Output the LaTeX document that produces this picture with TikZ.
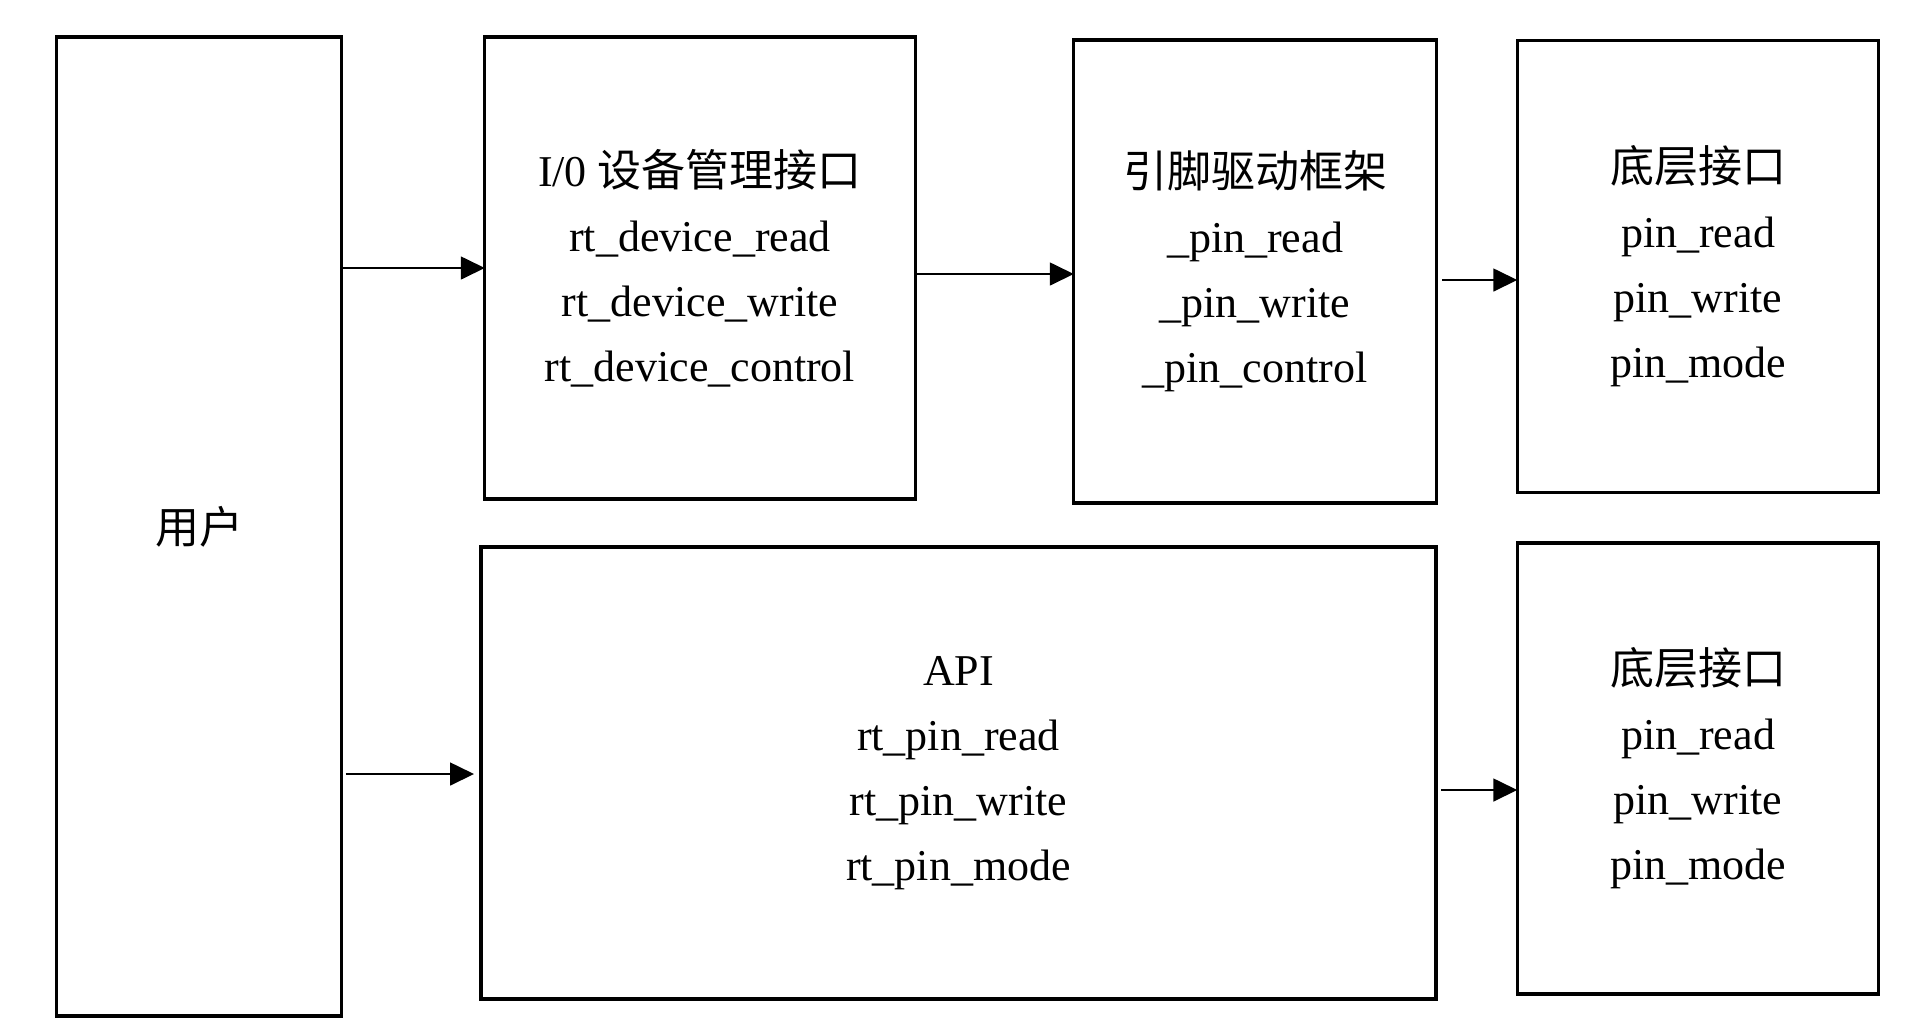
\documentclass[tikz,border=0pt]{standalone}
\usepackage{fontspec}
\setmainfont{Liberation Serif}
\newfontfamily\cjk{Noto Sans CJK SC}
\usetikzlibrary{arrows.meta,calc}
\tikzset{
  blk/.style={draw=black, line width=1.6pt, rectangle, inner sep=0pt, outer sep=0pt,
    align=center, font=\fontsize{22pt}{32.5pt}\selectfont},
  arr/.style={line width=0.85pt, -{Triangle[length=12pt,width=11.5pt]}}
}
\begin{document}
\begin{tikzpicture}[x=0.5pt,y=-0.5pt]
\useasboundingbox[fill=white] (0,0) rectangle (1926,1035);
\node[blk, minimum width=142.75pt, minimum height=489.5pt] (user) at (199,526.5) {{\cjk 用户}};
\node[blk, minimum width=215.25pt, minimum height=231pt] (io) at (700,268)
  {I/0 {\cjk 设备管理接口}\\rt\_device\_read\\rt\_device\_write\\rt\_device\_control};
\node[blk, minimum width=181.25pt, minimum height=231.5pt] (pin) at (1255,271.5)
  {{\cjk 引脚驱动框架}\\\_pin\_read\\\_pin\_write\\\_pin\_control};
\node[blk, minimum width=180.75pt, minimum height=226pt] (b1) at (1698,266.5)
  {{\cjk 底层接口}\\pin\_read\\pin\_write\\pin\_mode};
\node[blk, minimum width=477.5pt, minimum height=226pt] (api) at (958.5,773)
  {API\\rt\_pin\_read\\rt\_pin\_write\\rt\_pin\_mode};
\node[blk, minimum width=180.75pt, minimum height=225.5pt] (b2) at (1698,768.5)
  {{\cjk 底层接口}\\pin\_read\\pin\_write\\pin\_mode};
\draw[arr] (user.east |- io.west) -- (io.west);
\draw[arr] ($(io.east)+(0,-3pt)$) -- ($(io.east -| pin.west)+(0,-3pt)$);
\draw[arr] ($(pin.east)+(3pt,-4.25pt)$) -- ($(pin.east -| b1.west)+(0,-4.25pt)$);
\draw[arr] ($(user.east |- api.west)+(2pt,-0.5pt)$) -- ($(api.west)+(-3.5pt,-0.5pt)$);
\draw[arr] ($(api.east)+(2.5pt,-8.5pt)$) -- ($(api.east -| b2.west)+(0,-8.5pt)$);
\end{tikzpicture}
\end{document}
